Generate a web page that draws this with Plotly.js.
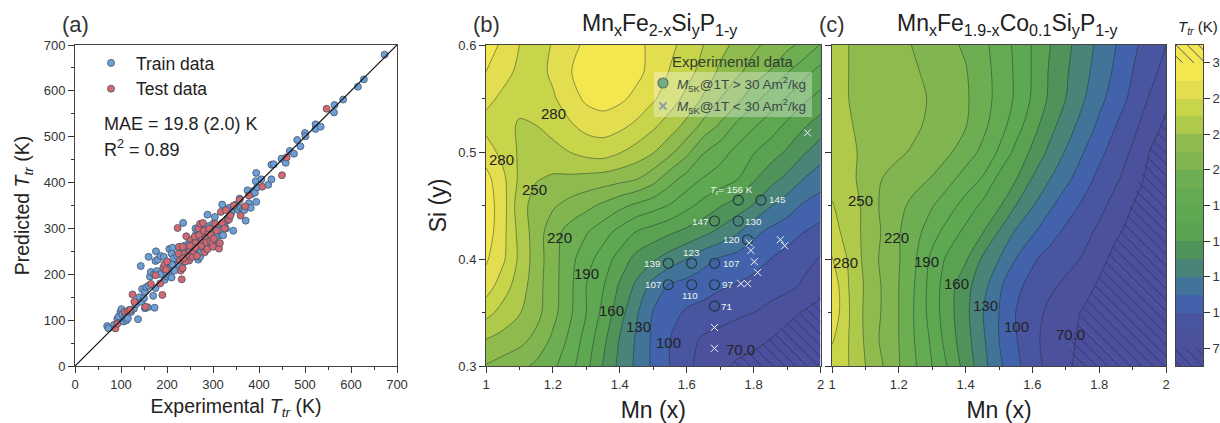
<!DOCTYPE html>
<html><head><meta charset="utf-8">
<script src="https://cdn.plot.ly/plotly-3.0.1.min.js"></script>
<style>html,body{margin:0;padding:0;background:#fff;overflow:hidden}#g{width:1220px;height:423px}</style>
</head><body><div id="g"></div>
<script>
const trainX=[70,73,85,92,95,99,101,103,106,108,110,112,115,118,122,128,137,133,140,145,146,150,152,155,152,158,173,170,175,160,163,165,172,178,143,160,175,176,180,186,193,185,195,200,205,210,198,203,208,212,216,220,205,212,210,225,232,228,235,235,240,243,250,255,258,262,264,268,272,275,268,270,275,278,282,285,288,290,292,295,298,300,304,302,306,310,312,314,318,320,322,325,328,332,335,340,344,345,350,355,358,360,365,368,371,375,378,382,385,388,391,394,393,394,396,405,420,427,427,432,449,458,467,476,483,490,500,501,523,523,534,563,564,583,615,628,673,245,248,252,256,260,262,265,266,270,274,276,280,283,286,288,292,296,300,303,306,308,215,222,226,230,238,196,201];
const trainY=[87,82,90,103,108,118,124,112,97,105,115,100,104,122,118,125,102,135,150,140,168,148,162,172,126,128,127,153,170,175,195,205,200,207,218,238,229,250,232,240,238,200,188,195,198,193,205,225,215,222,208,232,255,258,245,228,222,245,312,250,240,232,235,245,262,300,290,232,238,262,255,302,298,285,270,262,330,305,288,298,280,272,325,290,305,300,290,285,295,352,285,310,300,322,345,335,295,348,352,340,365,345,342,340,317,383,355,345,375,382,378,358,403,421,390,407,395,407,439,440,452,443,469,463,493,479,508,501,527,517,522,553,569,581,609,625,679,255,270,262,275,278,248,270,285,275,250,272,255,295,282,260,270,262,310,300,282,268,235,240,222,255,262,215,212];
const testX=[88,92,108,115,120,125,129,153,165,175,185,190,192,195,198,200,223,225,226,230,232,234,234,238,242,245,248,250,252,255,256,258,260,262,265,268,270,272,274,276,278,280,282,284,286,288,290,292,294,296,298,300,302,305,308,313,315,317,320,325,328,332,335,338,345,358,360,370,378,407,450,460,547,228,240,235,262,250];
const testY=[82,92,118,120,122,156,140,129,179,198,180,155,215,222,210,228,301,245,260,208,189,213,260,245,283,240,230,250,275,265,238,250,282,268,240,300,285,310,262,275,312,295,248,280,270,255,290,300,272,285,268,260,278,310,295,256,268,336,312,300,340,318,320,328,350,362,328,348,372,391,416,455,561,230,228,235,258,262];
const identityLine=[0,700];

const gridX=[1,1.05,1.1,1.15,1.2,1.25,1.3,1.35,1.4,1.45,1.5,1.55,1.6,1.65,1.7,1.75,1.8,1.85,1.9,1.95,2];
const gridY=[0.3,0.325,0.35,0.375,0.4,0.425,0.45,0.475,0.5,0.525,0.55,0.575,0.6];
const zB=[
[234,229,224,217,208,196,179,159,141,127,112,100,88,80,73,68,66,63,61,59,57],
[250,245,240,231,217,202,184,164,144,128,112,100,90,83,80,76,73,70,65,62,59],
[270,260,251,240,225,208,190,171,151,132,114,105,98,95,91,88,85,79,74,69,64],
[288,272,258,241,226,209,190,176,158,142,124,113,109,106,102,99,96,94,89,83,76],
[297,283,262,243,226,210,196,183,169,155,147,138,130,120,113,109,105,100,95,89,84],
[303,285,260,243,226,214,206,196,185,174,168,162,156,149,141,132,119,111,106,100,95],
[303,287,256,244,237,230,224,217,209,202,196,189,179,170,161,153,144,131,122,113,108],
[300,284,262,251,248,247,245,243,240,236,226,211,199,189,183,176,162,151,141,130,122],
[288,275,263,258,259,265,270,272,266,259,251,239,224,206,196,186,176,167,158,147,137],
[275,272,263,265,272,278,285,287,284,277,268,258,246,231,218,202,192,183,172,162,153],
[284,277,271,272,278,288,298,302,298,291,282,272,261,248,235,225,210,198,189,178,170],
[295,285,277,274,283,294,302,306,305,299,290,279,270,260,247,238,229,219,206,195,185],
[303,292,280,274,281,290,298,304,304,299,291,284,274,265,255,246,238,231,224,216,204]];
const zC=[
[272,265,250,236,221,206,190,173,154,136,118,104,91,81,72,67,63,60,58,56,55],
[282,265,248,232,220,204,187,167,151,133,115,101,89,80,73,68,64,61,59,57,55],
[291,266,247,234,220,203,183,165,149,131,115,100,91,82,76,69,65,62,59,57,55],
[290,265,248,234,220,204,183,166,150,136,118,103,96,88,82,76,68,63,60,57,55],
[281,263,246,232,221,206,186,171,162,143,130,115,102,95,90,84,74,66,62,58,55],
[270,260,246,234,221,210,196,183,171,161,144,128,117,106,97,90,82,72,66,60,56],
[266,257,247,232,224,215,206,196,184,172,162,145,131,118,107,98,89,80,70,62,56],
[260,254,245,235,230,225,219,209,199,189,171,161,144,131,119,107,96,87,78,66,58],
[258,253,247,241,237,233,228,222,212,202,188,171,157,142,129,116,104,93,83,70,60],
[257,251,247,244,240,237,232,227,221,209,197,182,166,151,137,125,112,100,89,78,67],
[256,250,247,244,241,237,234,228,222,212,200,188,173,158,145,132,119,108,96,84,73],
[256,250,246,243,240,236,232,226,221,211,200,188,174,159,147,135,124,112,100,90,80],
[256,250,246,241,238,234,229,223,218,209,199,187,174,161,149,138,126,115,103,94,85]];

const bandCenters=[62.5,77.5,92.5,107.5,122.5,137.5,152.5,167.5,182.5,197.5,212.5,227.5,242.5,257.5,272.5,287.5,302.5,317.5];
const bandColors=['#4c509c','#4c519e','#4a55a2','#4263ab','#42749a','#4a8478','#4f925a','#5aa152','#5fa852','#63aa52','#6cae51','#80b550','#8fbb4e','#afc94b','#c8d54a','#e3de50','#f3e64f','#f3e64f'];
const cbTicks=[70,100,130,160,190,220,250,280,310];

const hatchBX=[1.722,1.829,1.908,2,2], hatchBY=[0.3,0.321,0.341,0.368,0.3];
const hatchCX=[1.712,1.712,1.743,1.813,1.883,1.933,2,2], hatchCY=[0.3,0.318,0.346,0.393,0.44,0.486,0.542,0.3];

const expX=[1.754,1.822,1.683,1.754,1.782,1.545,1.615,1.683,1.545,1.615,1.683,1.683];
const expY=[0.455,0.455,0.4355,0.4355,0.418,0.396,0.396,0.396,0.376,0.376,0.376,0.356];
const lowX=[1.961,1.880,1.893,1.787,1.792,1.802,1.812,1.762,1.782,1.683,1.683];
const lowY=[0.518,0.418,0.4125,0.415,0.408,0.3975,0.3875,0.377,0.377,0.336,0.3165];
const expLabels=[['<i>T</i><sub>r</sub>= 156 K',1.734,0.4645],['145',1.871,0.456],['147',1.639,0.4355],['130',1.80,0.4355],['120',1.734,0.418],['123',1.615,0.406],['139',1.495,0.396],['107',1.731,0.396],['107',1.498,0.376],['97',1.721,0.376],['110',1.611,0.3655],['71',1.719,0.356]];
const contourLabelsB=[['280',1.201,0.536],['280',1.047,0.493],['250',1.146,0.465],['220',1.221,0.42],['190',1.30,0.386],['160',1.375,0.352],['130',1.455,0.337],['100',1.545,0.322],['70.0',1.761,0.315]];
const contourLabelsC=[['250',1.085,0.455],['220',1.193,0.42],['190',1.284,0.398],['160',1.374,0.377],['130',1.459,0.357],['100',1.551,0.337],['280',1.04,0.397],['70.0',1.714,0.329]];

const W=1220,H=423,FONT='"Liberation Sans",Arial,sans-serif',INK='#333';
const px=x=>x/W, py=y=>1-y/H;
const stepScale=bandColors.flatMap((c,i)=>[[i/18,c],[(i+1)/18,c]]);
const hatch={shape:'\\',size:8,solidity:0.1,fgcolor:'#2a2e6e',bgcolor:'rgba(0,0,0,0)'};
const ctr=(z,xa,ya)=>({type:'contour',x:gridX,y:gridY,z:z,xaxis:xa,yaxis:ya,autocontour:false,showscale:false,hoverinfo:'skip',
  zmin:55,zmax:325,colorscale:stepScale,contours:{start:70,end:310,size:15,coloring:'fill'},line:{color:'rgba(25,45,40,0.65)',width:0.7,smoothing:0.9}});
const hatchTrace=(x,y,xa,ya)=>({type:'scatter',mode:'lines',x:x,y:y,xaxis:xa,yaxis:ya,fill:'toself',fillcolor:'rgba(0,0,0,0)',fillpattern:hatch,line:{width:0,color:'rgba(0,0,0,0)'},showlegend:false,hoverinfo:'skip'});
const dotLine={color:'#45546a',width:0.8};
const traces=[
 {type:'scatter',mode:'markers',name:'Train data',x:trainX,y:trainY,xaxis:'x',yaxis:'y',marker:{size:7,color:'#6c9fd6',line:dotLine}},
 {type:'scatter',mode:'markers',name:'Test data',x:testX,y:testY,xaxis:'x',yaxis:'y',marker:{size:7,color:'#d4686e',line:dotLine}},
 {type:'scatter',mode:'lines',x:identityLine,y:identityLine,xaxis:'x',yaxis:'y',line:{color:'#111',width:1.2},showlegend:false,hoverinfo:'skip'},
 ctr(zB,'x2','y2'),
 hatchTrace(hatchBX,hatchBY,'x2','y2'),
 {type:'scatter',mode:'markers',x:expX,y:expY,xaxis:'x2',yaxis:'y2',showlegend:false,marker:{size:10,color:'rgba(0,0,0,0)',line:{color:'#1c3540',width:1.1}}},
 {type:'scatter',mode:'markers',x:lowX,y:lowY,xaxis:'x2',yaxis:'y2',showlegend:false,marker:{symbol:'x-thin',size:7,line:{color:'#f2f4f8',width:1}}},
 {type:'scatter',mode:'markers',x:[1.529],y:[0.5645],xaxis:'x2',yaxis:'y2',showlegend:false,marker:{size:10,color:'#2f8a48',line:{color:'#10302a',width:1.2}}},
 {type:'scatter',mode:'markers',x:[1.529],y:[0.543],xaxis:'x2',yaxis:'y2',showlegend:false,marker:{symbol:'x-thin',size:7,line:{color:'#5a6a88',width:1.8}}},
 ctr(zC,'x3','y3'),
 hatchTrace(hatchCX,hatchCY,'x3','y3'),
 {type:'heatmap',x:[0,1],y:bandCenters,z:bandCenters.map(v=>[v,v]),xaxis:'x4',yaxis:'y4',zmin:55,zmax:325,colorscale:stepScale,showscale:false,hoverinfo:'skip'},
 hatchTrace([0,1,1,0],[55,55,70,70],'x4','y4'),
 hatchTrace([0,1,1,0],[310,310,325,325],'x4','y4')
];
const axBase={showline:true,mirror:true,linecolor:'#444',linewidth:1,ticks:'outside',ticklen:6,tickcolor:'#333',tickwidth:1,showgrid:false,zeroline:false,tickfont:{size:13,color:INK,family:FONT}};
const minor=d=>({dtick:d,ticks:'outside',ticklen:3,tickcolor:'#333',tickwidth:1,showgrid:false});
const titleStyle=(s)=>({size:s,color:'#222',family:FONT});
const ann=[];
const add=(text,x,y,size,color,xref,yref,extra)=>ann.push(Object.assign({text:text,x:x,y:y,xref:xref||'paper',yref:yref||'paper',showarrow:false,xanchor:'center',yanchor:'middle',font:{size:size,color:color||'#222',family:FONT}},extra||{}));
add('(a)',px(75),py(25),22,INK);
add('(b)',px(486),py(25),22,INK);
add('(c)',px(832),py(25),22,INK);
add('Mn<sub>x</sub>Fe<sub>2-x</sub>Si<sub>y</sub>P<sub>1-y</sub>',px(660),py(25),23,'#222');
add('Mn<sub>x</sub>Fe<sub>1.9-x</sub>Co<sub>0.1</sub>Si<sub>y</sub>P<sub>1-y</sub>',px(1008),py(25),23,'#222');
add('<i>T<sub>tr</sub></i> (K)',px(1198),py(28),15,'#222');
add('MAE = 19.8 (2.0) K',px(102),py(124),18,'#222','paper','paper',{xanchor:'left'});
add('R<sup>2</sup> = 0.89',px(102),py(149),18,'#222','paper','paper',{xanchor:'left'});
add('Experimental data',px(733),py(62),15,'#33402f');
add('<i>M</i><sub>5K</sub>@1T &gt; 30 Am<sup>2</sup>/kg',px(675),py(84),13.5,'#3c4a45','paper','paper',{xanchor:'left'});
add('<i>M</i><sub>5K</sub>@1T &lt; 30 Am<sup>2</sup>/kg',px(675),py(106),13.5,'#3c4a45','paper','paper',{xanchor:'left'});
contourLabelsB.forEach(l=>add(l[0],l[1],l[2],15,'#222','x2','y2'));
contourLabelsC.forEach(l=>add(l[0],l[1],l[2],15,'#222','x3','y3'));
expLabels.forEach(l=>add(l[0],l[1],l[2],9.8,'#eef4ea','x2','y2'));

const layout={width:W,height:H,margin:{l:0,r:0,t:0,b:0},paper_bgcolor:'#fff',plot_bgcolor:'#fff',font:{family:FONT,color:INK},
 showlegend:true,legend:{x:px(86),y:py(45),xanchor:'left',yanchor:'top',bgcolor:'rgba(0,0,0,0)',itemwidth:40,font:{size:17.5,color:'#222',family:FONT},tracegroupgap:0},
 xaxis:Object.assign({},axBase,{domain:[px(75),px(397)],range:[0,700],dtick:100,minor:minor(50),title:{text:'Experimental <i>T<sub>tr</sub></i> (K)',font:titleStyle(19.5),standoff:8},anchor:'y'}),
 yaxis:Object.assign({},axBase,{domain:[py(366),py(45)],range:[0,700],dtick:100,minor:minor(50),title:{text:'Predicted <i>T<sub>tr</sub></i> (K)',font:titleStyle(19.5),standoff:8},anchor:'x'}),
 xaxis2:Object.assign({},axBase,{domain:[px(486),px(820.5)],range:[1,2],dtick:0.2,tick0:1,minor:minor(0.1),title:{text:'Mn (x)',font:titleStyle(23),standoff:12},anchor:'y2'}),
 yaxis2:Object.assign({},axBase,{domain:[py(366),py(45)],range:[0.3,0.6],dtick:0.1,tick0:0.3,minor:minor(0.05),title:{text:'Si (y)',font:titleStyle(23),standoff:5},anchor:'x2'}),
 xaxis3:Object.assign({},axBase,{domain:[px(832),px(1166)],range:[1,2],dtick:0.2,tick0:1,minor:minor(0.1),title:{text:'Mn (x)',font:titleStyle(23),standoff:12},anchor:'y3'}),
 yaxis3:Object.assign({},axBase,{domain:[py(366),py(45)],range:[0.3,0.6],dtick:0.1,tick0:0.3,minor:minor(0.05),showticklabels:false,anchor:'x3'}),
 xaxis4:{domain:[px(1176),px(1203)],range:[0,1],showticklabels:false,ticks:'',showgrid:false,zeroline:false,showline:true,mirror:true,linecolor:'#444',linewidth:1,anchor:'y4'},
 yaxis4:{domain:[py(366),py(45)],range:[55,325],side:'right',tickmode:'array',tickvals:cbTicks,ticktext:cbTicks.map(String),ticks:'outside',ticklen:6,tickcolor:'#333',tickwidth:1,showgrid:false,zeroline:false,showline:true,mirror:true,linecolor:'#444',linewidth:1,tickfont:{size:13,color:INK,family:FONT},anchor:'x4'},
 shapes:[{type:'rect',xref:'paper',yref:'paper',x0:px(654),x1:px(812),y0:py(117),y1:py(72),fillcolor:'rgba(255,255,255,0.32)',line:{width:0},layer:'above'}],
 annotations:ann
};
Plotly.newPlot('g',traces,layout,{displayModeBar:false,staticPlot:true});
</script></body></html>
